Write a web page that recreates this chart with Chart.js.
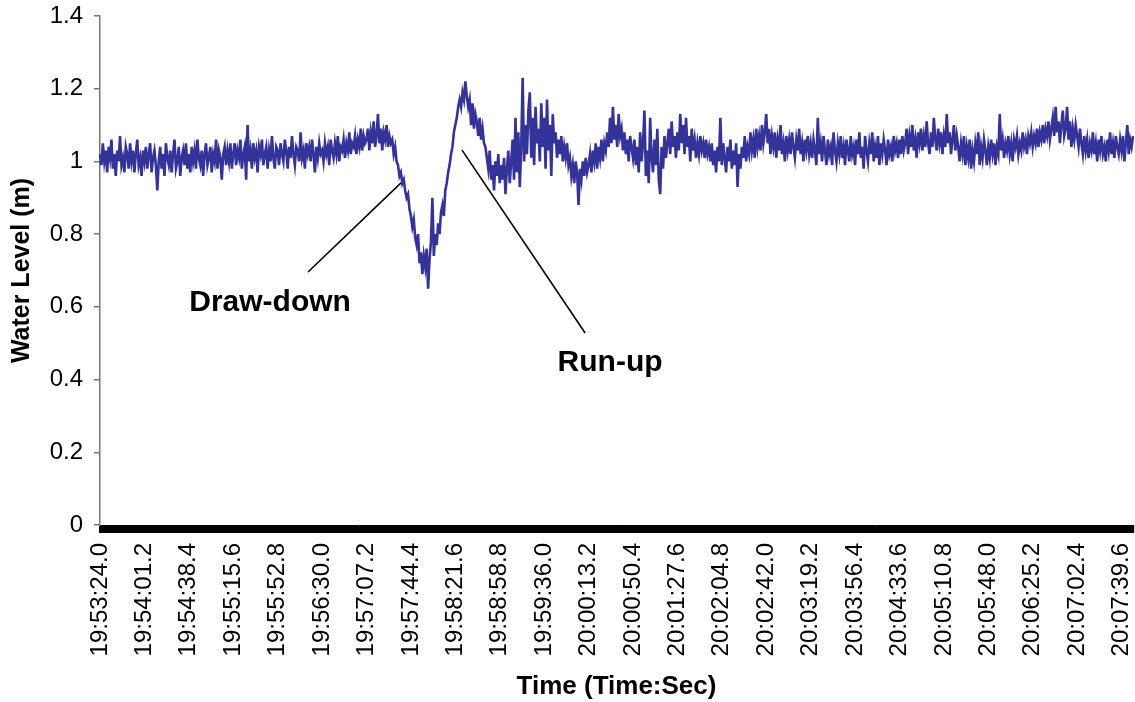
<!DOCTYPE html>
<html>
<head>
<meta charset="utf-8">
<title>Water Level</title>
<script src="https://cdn.jsdelivr.net/npm/chart.js@4.4.1/dist/chart.umd.min.js"></script>
<style>
  html, body { margin: 0; padding: 0; background: #ffffff; }
  canvas { display: block; }
</style>
</head>
<body>
<canvas id="chart" width="1135" height="702"></canvas>
<script>
// Gauge record: one reading every 1.2 s starting at 19:53:24.0
const startTime = '19:53:24.0';
const sampleStepTenths = 12;
const tickEvery = 31;

const tickLabels = [
  '19:53:24.0', '19:54:01.2', '19:54:38.4', '19:55:15.6', '19:55:52.8', '19:56:30.0',
  '19:57:07.2', '19:57:44.4', '19:58:21.6', '19:58:58.8', '19:59:36.0', '20:00:13.2',
  '20:00:50.4', '20:01:27.6', '20:02:04.8', '20:02:42.0', '20:03:19.2', '20:03:56.4',
  '20:04:33.6', '20:05:10.8', '20:05:48.0', '20:06:25.2', '20:07:02.4', '20:07:39.6'
];

// Water level (m), one row per 37.2 s label interval
const waterLevel = [
  1.02,0.99,1.05,1.00,1.03,0.97,1.04,1.01,1.06,0.98,1.02,0.96,1.03,1.00,1.07,0.99,1.01,0.97,1.04,1.02,0.98,1.05,1.00,1.03,0.97,1.02,1.06,0.99,1.01,0.96,1.03,
  1.00,1.04,0.98,1.02,1.05,0.97,1.01,1.03,0.99,0.92,1.00,1.04,0.98,1.02,0.96,1.05,1.01,0.99,1.03,0.97,1.02,1.06,0.98,1.00,1.04,0.96,1.01,1.03,0.99,1.05,0.98,
  1.02,0.97,1.04,1.00,1.03,0.98,1.06,1.01,0.99,1.03,0.96,1.02,1.05,0.99,1.01,1.04,0.97,1.02,1.00,1.06,0.98,1.03,1.01,0.95,1.02,1.04,0.99,1.03,1.00,1.05,0.98,
  1.02,1.05,0.99,1.03,1.01,1.06,0.98,1.02,1.04,0.95,1.10,1.00,1.03,0.98,1.05,1.01,1.03,0.97,1.04,1.02,1.06,0.99,1.02,1.04,0.98,1.03,1.00,1.07,1.01,0.98,1.04,
  1.03,0.99,1.05,1.02,1.00,1.06,1.03,0.98,1.04,1.01,1.07,1.02,0.99,1.04,1.03,1.00,1.08,1.01,1.03,0.98,1.05,1.02,1.04,1.00,1.06,1.02,0.97,1.04,1.01,1.05,1.02,
  1.03,1.00,1.05,1.02,1.04,0.99,1.06,1.03,1.01,1.05,1.02,1.07,1.00,1.04,1.03,1.06,1.01,1.05,1.03,1.08,1.02,1.05,1.04,1.07,1.02,1.06,1.04,1.09,1.03,1.07,1.05,
  1.06,1.09,1.03,1.08,1.05,1.11,1.04,1.07,1.13,1.05,1.09,1.03,1.08,1.06,1.10,1.04,1.07,1.05,1.06,1.02,1.04,1.00,0.99,0.96,0.97,0.94,0.95,0.92,0.90,0.91,0.87,
  0.85,0.82,0.84,0.79,0.77,0.80,0.72,0.75,0.69,0.74,0.71,0.76,0.65,0.73,0.78,0.90,0.74,0.80,0.77,0.83,0.80,0.86,0.88,0.85,0.92,0.94,0.97,0.99,1.02,1.04,1.08,
  1.10,1.12,1.15,1.17,1.15,1.19,1.17,1.22,1.18,1.15,1.17,1.10,1.16,1.09,1.13,1.11,1.07,1.12,1.06,1.09,1.05,1.04,1.01,0.98,1.03,0.95,0.99,0.92,1.00,0.96,1.02,
  0.94,0.99,0.95,1.01,0.91,0.98,1.03,0.94,1.00,1.06,0.95,1.12,0.97,1.08,0.93,1.04,1.23,1.00,1.10,1.02,1.14,1.19,1.01,1.12,0.99,1.15,1.05,1.09,1.00,1.16,1.04,
  1.12,0.98,1.17,1.03,1.10,0.96,1.13,1.05,1.08,1.01,1.06,1.02,1.07,1.00,1.04,1.01,1.05,0.99,1.01,0.96,0.99,0.94,1.00,0.97,0.88,0.98,0.95,1.00,0.96,1.01,0.97,
  0.99,1.02,0.97,1.03,1.00,1.05,0.98,1.04,1.01,1.06,1.00,1.05,1.03,1.08,1.04,1.12,1.05,1.15,1.06,1.10,1.04,1.13,1.07,1.09,1.03,1.08,1.02,1.06,1.00,1.07,1.04,
  1.01,1.06,0.99,1.04,0.97,1.08,1.00,1.05,1.14,0.96,1.03,0.94,1.12,1.01,0.97,1.06,0.99,1.09,0.95,0.91,1.04,0.98,1.07,1.01,1.05,1.09,1.02,1.11,1.04,1.07,1.01,
  1.08,1.03,1.13,1.05,1.10,1.02,1.12,1.04,1.07,1.00,1.09,1.03,1.06,1.01,1.05,1.02,1.07,1.03,1.05,1.01,1.06,1.02,1.04,1.00,1.05,0.99,1.03,0.97,1.04,1.00,1.12,
  0.99,1.05,1.01,0.97,1.04,1.00,1.06,0.98,1.03,0.99,1.05,0.93,1.02,0.98,1.04,1.01,1.07,1.00,1.04,1.02,1.08,1.03,1.06,1.01,1.09,1.04,1.07,1.03,1.10,1.05,1.08,
  1.13,1.05,1.09,1.02,1.07,1.04,1.08,1.01,1.06,1.03,1.10,1.02,1.05,1.00,1.07,1.03,1.06,1.02,1.08,1.04,1.01,1.06,1.03,1.09,1.02,1.05,1.00,1.06,1.03,1.07,1.02,
  1.05,1.01,1.06,1.03,0.99,1.12,1.02,1.05,1.00,1.07,1.03,0.99,1.06,1.02,1.04,0.99,1.08,1.03,1.00,1.05,1.02,1.07,1.01,1.04,0.99,1.06,1.03,1.00,1.07,1.02,1.04,
  0.99,1.06,1.02,1.08,1.01,1.04,0.98,1.07,1.03,1.00,1.05,1.02,1.08,1.00,1.04,1.01,1.07,0.99,1.05,1.02,1.06,1.03,0.99,1.06,1.02,1.04,1.00,1.07,1.03,1.05,1.01,
  1.06,1.02,1.07,1.03,1.05,1.09,1.02,1.07,1.04,1.10,1.03,1.06,1.01,1.08,1.05,1.09,1.03,1.07,1.04,1.11,1.05,1.02,1.08,1.04,1.12,1.06,1.03,1.09,1.05,1.08,1.02,
  1.07,1.04,1.13,1.05,1.08,1.02,1.06,1.10,1.03,1.07,1.04,1.00,1.05,1.02,1.07,0.99,1.04,1.01,1.06,0.98,1.03,1.00,1.05,1.02,1.08,0.99,1.04,1.01,1.06,1.03,0.99,
  1.04,1.01,1.06,1.02,1.05,0.99,1.04,1.02,1.13,1.03,1.06,1.01,1.05,1.03,1.07,1.02,1.05,1.00,1.06,1.04,1.07,1.02,1.05,1.03,1.08,1.04,1.06,1.02,1.07,1.05,1.08,
  1.04,1.07,1.05,1.09,1.04,1.08,1.06,1.10,1.05,1.09,1.07,1.11,1.06,1.09,1.12,1.07,1.15,1.08,1.11,1.05,1.10,1.14,1.07,1.09,1.15,1.06,1.11,1.04,1.09,1.06,1.10,
  1.07,1.04,1.09,1.05,1.02,1.07,1.03,1.06,1.01,1.05,1.03,1.08,1.02,1.05,1.00,1.06,1.03,1.07,1.02,1.04,1.00,1.06,1.03,1.08,1.02,1.05,1.01,1.07,1.04,1.02,1.06,
  1.03,1.07,1.00,1.05,1.10,1.02,1.06,1.04,1.07
];

// Callouts, anchored in data space: [sample index, water level]
const callouts = [
  { text: 'Draw-down', label: [118.7, 0.611], lineFrom: [145.2, 0.696], lineTo: [210.1, 0.941] },
  { text: 'Run-up',    label: [356.0, 0.446], lineFrom: [252.7, 1.031], lineTo: [338.6, 0.528] }
];

function timeLabel(tenths) {
  const h = Math.floor(tenths / 36000);
  const m = Math.floor((tenths % 36000) / 600);
  const s = (tenths % 600) / 10;
  const pad = n => String(n).padStart(2, '0');
  return pad(h) + ':' + pad(m) + ':' + s.toFixed(1).padStart(4, '0');
}
function parseTenths(str) {
  const [h, m, s] = str.split(':');
  return (+h) * 36000 + (+m) * 600 + Math.round(parseFloat(s) * 10);
}
const t0 = parseTenths(startTime);
const times = waterLevel.map((_, i) => timeLabel(t0 + i * sampleStepTenths));

const FONT = '"Liberation Sans", Arial, Helvetica, sans-serif';

const calloutPlugin = {
  id: 'callouts',
  afterDatasetsDraw(chart) {
    const { ctx, scales: { x, y } } = chart;
    ctx.save();
    callouts.forEach(c => {
      ctx.beginPath();
      ctx.strokeStyle = '#000000';
      ctx.lineWidth = 1.6;
      ctx.moveTo(x.getPixelForValue(c.lineFrom[0]), y.getPixelForValue(c.lineFrom[1]));
      ctx.lineTo(x.getPixelForValue(c.lineTo[0]), y.getPixelForValue(c.lineTo[1]));
      ctx.stroke();
      ctx.fillStyle = '#000000';
      ctx.font = 'bold 30px ' + FONT;
      ctx.textAlign = 'center';
      ctx.textBaseline = 'middle';
      ctx.fillText(c.text, x.getPixelForValue(c.label[0]), y.getPixelForValue(c.label[1]));
    });
    ctx.restore();
  }
};

new Chart(document.getElementById('chart'), {
  type: 'line',
  data: {
    labels: times,
    datasets: [{
      label: 'Water Level',
      data: waterLevel,
      borderColor: '#333399',
      borderWidth: 2.6,
      pointRadius: 0,
      tension: 0,
      fill: false
    }]
  },
  options: {
    responsive: false,
    animation: false,
    devicePixelRatio: 1,
    layout: { padding: { left: 0, top: 16, right: 2, bottom: 0 } },
    plugins: { legend: { display: false }, tooltip: { enabled: false } },
    scales: {
      x: {
        type: 'category',
        offset: false,
        border: { display: true, color: '#000000', width: 1 },
        grid: { display: true, drawOnChartArea: false, drawTicks: true, tickLength: 8, color: '#000000', lineWidth: 2.2 },
        ticks: {
          autoSkip: false,
          minRotation: 90,
          maxRotation: 90,
          padding: 10,
          color: '#000000',
          font: { family: FONT, size: 24 },
          callback: (v, i) => (i % tickEvery === 0 ? tickLabels[i / tickEvery] : '')
        },
        title: {
          display: true,
          text: 'Time (Time:Sec)',
          color: '#000000',
          font: { family: FONT, size: 26, weight: 'bold' },
          padding: { top: 0, bottom: 0 }
        },
        afterFit(scale) {
          scale.height = 177;
          scale.paddingLeft = 0;
          scale.paddingRight = 0;
        }
      },
      y: {
        min: 0,
        max: 1.4,
        border: { display: true, color: '#777777', width: 1.5 },
        grid: { display: true, drawOnChartArea: false, drawTicks: true, tickLength: 6, color: '#777777', lineWidth: 1.5 },
        ticks: {
          stepSize: 0.2,
          padding: 11,
          color: '#000000',
          font: { family: FONT, size: 24 },
          callback: v => String(Number(v.toFixed(1)))
        },
        title: {
          display: true,
          text: 'Water Level (m)',
          color: '#000000',
          font: { family: FONT, size: 25, weight: 'bold' },
          padding: { top: 7, bottom: 0 }
        },
        afterFit(scale) {
          scale.width = 100;
          scale.paddingTop = 0;
          scale.paddingBottom = 0;
        }
      }
    }
  },
  plugins: [calloutPlugin]
});
</script>
</body>
</html>
